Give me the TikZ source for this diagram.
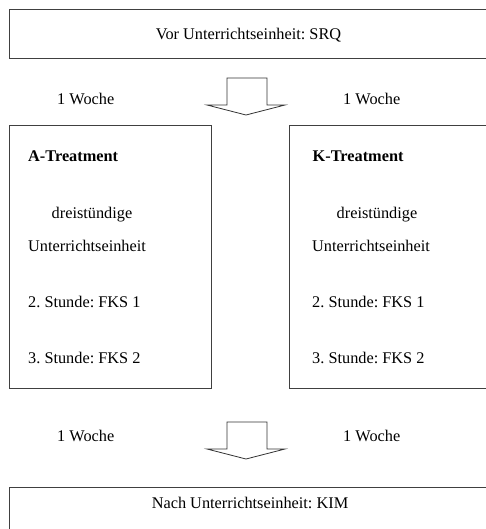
\documentclass[tikz,border=0pt]{standalone}
\usepackage{fontspec}
\setmainfont{Liberation Serif}
\frenchspacing
\begin{document}
\begin{tikzpicture}[x=1pt,y=-1pt,
  frame/.style={draw=black!75, line width=1pt},
  lbl/.style={inner sep=0pt, font=\fontsize{16.3}{19}\selectfont},
  head/.style={lbl, font=\fontsize{16.3}{19}\selectfont\bfseries},
  blockarrow/.style={draw=black!80, line width=0.8pt, fill=white}]
\useasboundingbox (0,0) rectangle (486,529);

% boxes (the right-hand sides run past the page edge)
\draw[frame] (9.5,10) rectangle (492,59);
\draw[frame] (9.5,126) rectangle (211,388);
\draw[frame] (289,126) rectangle (492,388);
\draw[frame] (9.5,487) rectangle (492,540);

% box texts
\node[lbl] (vor) at (248.5,35) {Vor Unterrichtseinheit: SRQ};
\node[lbl] (nach) at (250,503) {Nach Unterrichtseinheit: KIM};

\node[head, anchor=mid west] (aT) at (28,159) {A-Treatment};
\node[lbl] (aD) at (92,215) {dreistündige};
\node[lbl, anchor=mid west] (aU) at (28,249) {Unterrichtseinheit};
\node[lbl, anchor=mid west] (a2) at (28,305) {2. Stunde: FKS 1};
\node[lbl, anchor=mid west] (a3) at (28,361) {3. Stunde: FKS 2};

\node[head, anchor=mid west] (kT) at (312.5,159) {K-Treatment};
\node[lbl] (kD) at (377,215) {dreistündige};
\node[lbl, anchor=mid west] (kU) at (312,249) {Unterrichtseinheit};
\node[lbl, anchor=mid west] (k2) at (312,305) {2. Stunde: FKS 1};
\node[lbl, anchor=mid west] (k3) at (312,361) {3. Stunde: FKS 2};

% interval labels
\node[lbl, anchor=mid west] (w1) at (57,102) {1 Woche};
\node[lbl, anchor=mid west] (w2) at (343,102) {1 Woche};
\node[lbl, anchor=mid west] (w3) at (57,439) {1 Woche};
\node[lbl, anchor=mid west] (w4) at (343,439) {1 Woche};

% block arrows between the stages
\coordinate (arrA) at (247,78);
\coordinate (arrB) at (247,422);
\foreach \c in {arrA,arrB}{
  \draw[blockarrow, shift={(\c)}]
    (-20,0) -- (20,0) -- (20,27) -- (38,27) -- (-1,37) -- (-40,27) -- (-20,27) -- cycle;
}
\end{tikzpicture}
\end{document}
